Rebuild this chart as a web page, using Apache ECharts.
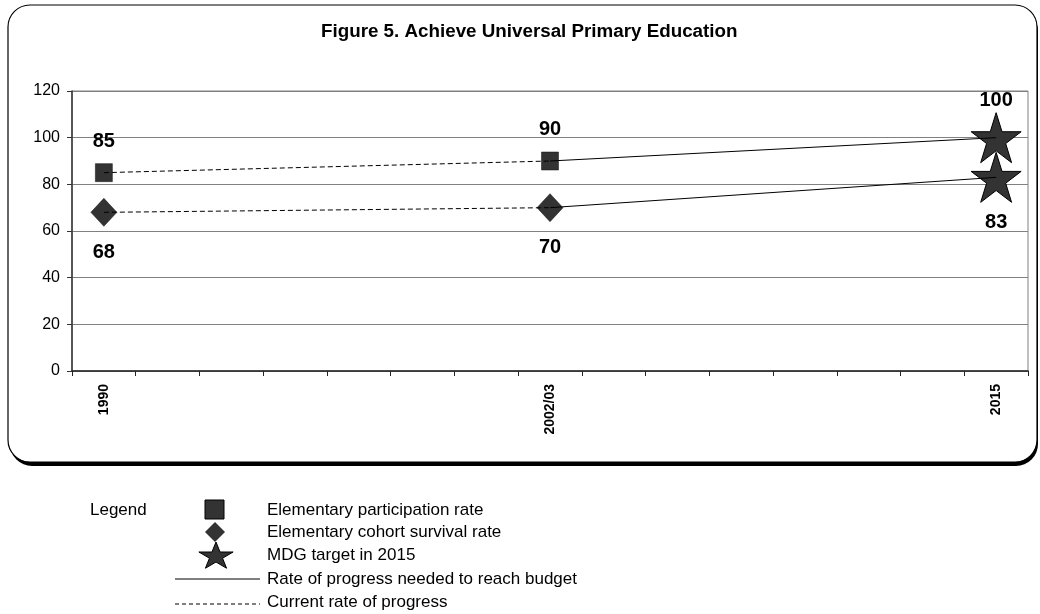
<!DOCTYPE html>
<html>
<head>
<meta charset="utf-8">
<title>Figure 5</title>
<script src="https://cdn.jsdelivr.net/npm/echarts@6/dist/echarts.min.js"></script>
<style>
  html, body { margin: 0; padding: 0; background: #fff; }
  #chart { width: 1040px; height: 614px; }
</style>
</head>
<body>
<div id="chart"></div>
<script>
// categories on the x axis (only three are labelled)
const categories = ['1990', '', '', '', '', '', '', '2002/03', '', '', '', '', '', '', '2015'];
// values at 1990 and 2002/03
const participation = [85, 90];
const survival = [68, 70];
// MDG targets in 2015: participation, survival
const target2015 = [100, 83];
const yMin = 0, yMax = 120, yStep = 20;
const legendNames = [
    'Elementary participation rate',
    'Elementary cohort survival rate',
    'MDG target in 2015',
    'Rate of progress needed to reach budget',
    'Current rate of progress'
];

const FONT = '"Liberation Sans", Arial, sans-serif';
// five point star, outline in a 100x100 box
const starPts = [[50, 0], [61.2, 34.5], [97.6, 34.5], [68.2, 55.9], [79.4, 90.5],
                 [50, 69.1], [20.6, 90.5], [31.8, 55.9], [2.4, 34.5], [38.8, 34.5]];
const STAR = 'path://M' + starPts.map(p => p[0] + ' ' + p[1]).join(' L') + ' Z';
const i0 = categories.indexOf('1990');
const i1 = categories.indexOf('2002/03');
const i2 = categories.indexOf('2015');

const bigLabel = { show: true, color: '#000', fontFamily: FONT, fontWeight: 'bold', fontSize: 20 };
const markStyle = { color: '#333', borderColor: '#111', borderWidth: 0.5, opacity: 1 };

function lineSeries (pts, dashed) {
    return {
        type: 'line',
        data: pts,
        symbol: 'none',
        silent: true,
        z: 5,
        lineStyle: { color: '#000', width: 1, type: dashed ? [5, 3] : 'solid' }
    };
}

let chart = echarts.init(document.getElementById('chart'), null, { renderer: 'canvas' });

const rowY = [510, 532, 555, 579, 602];
const legendGraphics = [
    { type: 'text', x: 90, y: rowY[0], style: { text: 'Legend', font: '17px ' + FONT, fill: '#000', verticalAlign: 'middle' } },
    { type: 'rect', shape: { x: 205, y: rowY[0] - 10, width: 19, height: 19 }, style: { fill: '#333', stroke: '#000', lineWidth: 1 } },
    { type: 'polygon', shape: { points: [[215, rowY[1] - 10], [225, rowY[1]], [215, rowY[1] + 10], [205, rowY[1]]] }, style: { fill: '#333' } },
    {
        type: 'polygon',
        shape: { points: starPts.map(p => [198 + p[0] * 0.36, rowY[2] - 13 + p[1] * 0.29]) },
        style: { fill: '#333', stroke: '#000', lineWidth: 1 }
    },
    { type: 'line', shape: { x1: 175, y1: rowY[3], x2: 260, y2: rowY[3] }, style: { stroke: '#000', lineWidth: 1 } },
    { type: 'line', shape: { x1: 175, y1: rowY[4] + 2, x2: 260, y2: rowY[4] + 2 }, style: { stroke: '#000', lineWidth: 1, lineDash: [4, 3] } }
];
legendNames.forEach(function (name, k) {
    legendGraphics.push({
        type: 'text', x: 267, y: rowY[k],
        style: { text: name, font: '17px ' + FONT, fill: '#000', verticalAlign: 'middle' }
    });
});

chart.setOption({
    backgroundColor: '#fff',
    animation: false,
    title: {
        text: 'Figure 5. Achieve Universal Primary Education',
        left: 321,
        top: 22,
        padding: 0,
        textStyle: { fontFamily: FONT, fontSize: 18.8, fontWeight: 'bold', color: '#000' }
    },
    graphic: [
        { type: 'rect', z: -10, shape: { x: 10, y: 9, width: 1028, height: 457, r: 22 }, style: { fill: '#000' } },
        { type: 'rect', z: -9, shape: { x: 8, y: 5, width: 1029, height: 457, r: 22 }, style: { fill: '#fff', stroke: '#000', lineWidth: 1.2 } }
    ].concat(legendGraphics),
    grid: {
        left: 72,
        right: 12,
        top: 91,
        bottom: 243,
        show: true,
        borderColor: '#808080',
        borderWidth: 1
    },
    xAxis: {
        type: 'category',
        data: categories,
        boundaryGap: true,
        axisLine: { lineStyle: { color: '#222', width: 1.5 } },
        axisTick: { show: true, interval: 0, length: 5, lineStyle: { color: '#222' } },
        axisLabel: {
            interval: 0,
            rotate: 90,
            margin: 13,
            color: '#000',
            fontFamily: FONT,
            fontWeight: 'bold',
            fontSize: 14
        },
        splitLine: { show: false }
    },
    yAxis: {
        type: 'value',
        min: yMin,
        max: yMax,
        interval: yStep,
        axisLine: { show: true, lineStyle: { color: '#333', width: 1.5 } },
        axisTick: { show: true, length: 5, lineStyle: { color: '#333' } },
        axisLabel: { color: '#000', fontFamily: FONT, fontSize: 16, margin: 12 },
        splitLine: { lineStyle: { color: '#808080', width: 1 } }
    },
    series: [
        {
            type: 'scatter',
            name: legendNames[0],
            symbol: 'rect',
            symbolSize: [17, 18],
            itemStyle: markStyle,
            label: Object.assign({ position: 'top', distance: 12 }, bigLabel),
            data: [[i0, participation[0]], [i1, participation[1]]]
        },
        {
            type: 'scatter',
            name: legendNames[1],
            symbol: 'diamond',
            symbolSize: [26, 28],
            itemStyle: markStyle,
            label: Object.assign({ position: 'bottom', distance: 16 }, bigLabel),
            data: [[i0, survival[0]], [i1, survival[1]]]
        },
        {
            type: 'scatter',
            name: legendNames[2],
            symbol: STAR,
            symbolSize: [50, 50],
            itemStyle: { color: '#333', borderColor: '#000', borderWidth: 1, opacity: 1 },
            label: Object.assign({ position: 'top', distance: 2 }, bigLabel),
            data: [[i2, target2015[0]]]
        },
        {
            type: 'scatter',
            name: legendNames[2],
            symbol: STAR,
            symbolSize: [50, 50],
            itemStyle: { color: '#333', borderColor: '#000', borderWidth: 1, opacity: 1 },
            label: Object.assign({ position: 'bottom', distance: 10 }, bigLabel),
            data: [[i2, target2015[1]]]
        },
        lineSeries([[i0, participation[0]], [i1, participation[1]]], true),
        lineSeries([[i0, survival[0]], [i1, survival[1]]], true),
        lineSeries([[i1, participation[1]], [i2, target2015[0]]], false),
        lineSeries([[i1, survival[1]], [i2, target2015[1]]], false)
    ]
});
</script>
</body>
</html>
